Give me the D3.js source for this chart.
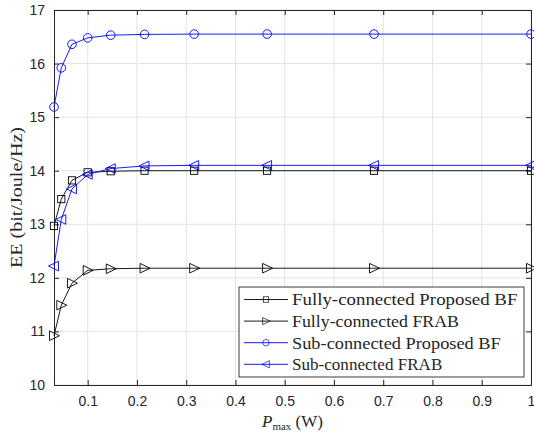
<!DOCTYPE html>
<html>
<head>
<meta charset="utf-8">
<script src="https://cdn.jsdelivr.net/npm/d3@7"></script>
<style>
    body { margin: 0; background: #fff; }
    .lbl { font-family: "Liberation Serif", "Times New Roman", serif; fill: #262626; }
</style>
</head>
<body>
<svg id="chart" width="534" height="435"></svg>
<script>
(function() {
    'use strict';

    // power values (W), log-spaced
    var pmax = [0.0316, 0.0464, 0.0681, 0.1, 0.1468, 0.2154, 0.3162, 0.4642, 0.6813, 1];

    var fullyProposed = [12.97, 13.47, 13.82, 13.97, 13.99, 14.0, 14.0, 14.0, 14.0, 14.0];
    var fullyFrab     = [10.92, 11.49, 11.90, 12.14, 12.17, 12.18, 12.18, 12.18, 12.18, 12.18];
    var subProposed   = [15.19, 15.92, 16.36, 16.48, 16.53, 16.545, 16.55, 16.55, 16.55, 16.55];
    var subFrab       = [12.22, 13.09, 13.66, 13.93, 14.04, 14.09, 14.1, 14.1, 14.1, 14.1];

    var xTicks = [0.1, 0.2, 0.3, 0.4, 0.5, 0.6, 0.7, 0.8, 0.9, 1];
    var yTicks = [10, 11, 12, 13, 14, 15, 16, 17];

    var series = [
        { name: 'Fully-connected Proposed BF', values: fullyProposed, color: '#000', marker: 'square' },
        { name: 'Fully-connected FRAB',        values: fullyFrab,     color: '#000', marker: 'right' },
        { name: 'Sub-connected Proposed BF',   values: subProposed,   color: '#0000ff', marker: 'circle' },
        { name: 'Sub-connected FRAB',          values: subFrab,       color: '#0000ff', marker: 'left' }
    ];

    var margin = { top: 10, right: 3, bottom: 50, left: 54 },
        width = 534 - margin.left - margin.right,
        height = 435 - margin.top - margin.bottom;

    var svg = d3.select('#chart');
    var g = svg.append('g')
        .attr('transform', 'translate(' + [margin.left, margin.top] + ')');

    var x = d3.scaleLinear().domain([0.0316, 1]).range([0, width]);
    var y = d3.scaleLinear().domain([10, 17]).range([height, 0]);

    /******************************************************************
        grid
     ******************************************************************/
    g.append('g').selectAll('line')
        .data(xTicks).enter().append('line')
            .attr('x1', x).attr('x2', x)
            .attr('y1', 0).attr('y2', height)
            .attr('stroke', '#e3e3e3').attr('stroke-width', 1);

    g.append('g').selectAll('line')
        .data(yTicks).enter().append('line')
            .attr('y1', y).attr('y2', y)
            .attr('x1', 0).attr('x2', width)
            .attr('stroke', '#e3e3e3').attr('stroke-width', 1);

    /******************************************************************
        axes (ticks inward, box)
     ******************************************************************/
    var xAxis = d3.axisBottom(x).tickValues(xTicks).tickSizeInner(-5).tickSizeOuter(0)
        .tickPadding(11).tickFormat(d3.format('~g'));
    var yAxis = d3.axisLeft(y).tickValues(yTicks).tickSizeInner(-5).tickSizeOuter(0)
        .tickPadding(9).tickFormat(d3.format('d'));

    g.append('g').attr('class', 'x axis')
        .attr('transform', 'translate(0,' + height + ')').call(xAxis);
    g.append('g').attr('class', 'y axis').call(yAxis);
    g.append('g')
        .call(d3.axisTop(x).tickValues(xTicks).tickSizeInner(-5).tickSizeOuter(0).tickFormat(''));
    g.append('g').attr('transform', 'translate(' + width + ',0)')
        .call(d3.axisRight(y).tickValues(yTicks).tickSizeInner(-5).tickSizeOuter(0).tickFormat(''));

    g.selectAll('.domain').attr('stroke', '#262626');
    g.selectAll('.tick line').attr('stroke', '#262626');
    g.selectAll('.axis .tick text')
        .attr('font-family', '"Liberation Sans", Arial, sans-serif')
        .attr('font-size', 14)
        .attr('fill', '#262626');

    /******************************************************************
        lines + markers
     ******************************************************************/
    var line = d3.line()
        .x(function(d, i) { return x(pmax[i]); })
        .y(function(d) { return y(d); });

    function marker(sel, type, color) {
        if (type === 'circle')
            sel.append('circle').attr('r', 4.3);
        else if (type === 'square')
            sel.append('rect').attr('x', -3.6).attr('y', -3.6).attr('width', 7.2).attr('height', 7.2);
        else if (type === 'right')
            sel.append('path').attr('d', 'M-4.5,-4.8 L5.5,0 L-4.5,4.8 Z');
        else
            sel.append('path').attr('d', 'M4.5,-4.8 L-5.5,0 L4.5,4.8 Z');
        sel.selectAll('*').attr('fill', 'none').attr('stroke', color).attr('stroke-width', 0.9);
    }

    var plot = g.append('g');
    series.forEach(function(s) {
        plot.append('path')
            .attr('d', line(s.values))
            .attr('fill', 'none')
            .attr('stroke', s.color)
            .attr('stroke-width', 0.9);

        plot.selectAll(null)
            .data(s.values).enter().append('g')
                .attr('transform', function(d, i) { return 'translate(' + [x(pmax[i]), y(d)] + ')'; })
                .each(function() { marker(d3.select(this), s.marker, s.color); });
    });

    /******************************************************************
        legend
     ******************************************************************/
    var lg = svg.append('g').attr('transform', 'translate(239,287)');
    lg.append('rect')
        .attr('width', 285).attr('height', 90)
        .attr('fill', '#fff').attr('stroke', '#262626').attr('stroke-width', 0.9);

    series.forEach(function(s, i) {
        var row = lg.append('g').attr('transform', 'translate(0,' + (12.5 + i * 21.6) + ')');
        row.append('line')
            .attr('x1', 5).attr('x2', 49)
            .attr('stroke', s.color).attr('stroke-width', 0.9);
        var m = row.append('g');
        marker(m, s.marker, s.color);
        m.attr('transform', 'translate(27,0) scale(0.75)');
        row.append('text')
            .attr('class', 'lbl')
            .attr('x', 53).attr('dy', '0.35em')
            .attr('font-size', 17)
            .attr('textLength', s.name.length * 8.35)
            .attr('lengthAdjust', 'spacingAndGlyphs')
            .text(s.name);
    });

    /******************************************************************
        axis labels
     ******************************************************************/
    svg.append('text')
        .attr('class', 'lbl')
        .attr('transform', 'translate(22,' + (margin.top + height / 2) + ') rotate(-90)')
        .attr('text-anchor', 'middle')
        .attr('font-size', 17)
        .attr('textLength', 141)
        .attr('lengthAdjust', 'spacingAndGlyphs')
        .text('EE (bit/Joule/Hz)');

    var xl = svg.append('text')
        .attr('class', 'lbl')
        .attr('x', margin.left + width / 2)
        .attr('y', 427)
        .attr('text-anchor', 'middle')
        .attr('font-size', 17);
    xl.append('tspan').attr('font-style', 'italic').text('P');
    xl.append('tspan').attr('font-size', 11).attr('dy', 3).text('max');
    xl.append('tspan').attr('dy', -3).text(' (W)');
})();
</script>
</body>
</html>
